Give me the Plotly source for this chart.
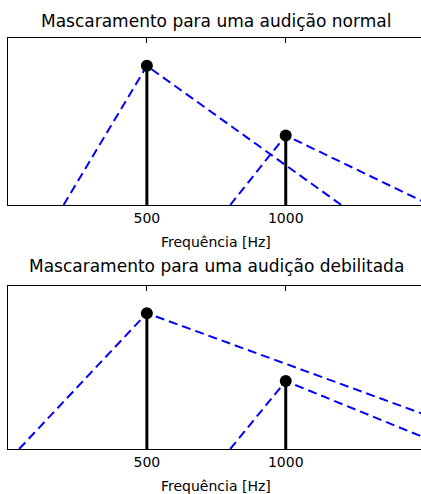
import plotly.graph_objects as go

# Pure tones (frequency in Hz, level in dB)
tone_freqs = [500, 1000]
tone_levels = [50, 25]

# Masking curves (frequency, level) for each tone
normal_500_f = [200, 500, 1200]
normal_500_db = [0, 50, 0]
normal_1000_f = [800, 1000, 1520]
normal_1000_db = [0, 25, 0]

impaired_500_f = [40, 500, 1840]
impaired_500_db = [0, 50, 0]
impaired_1000_f = [800, 1000, 1600]
impaired_1000_db = [0, 25, 0]

x_ticks = [500, 1000]
x_tick_text = ["500", "1000"]
titles = ["Mascaramento para uma audição normal",
          "Mascaramento para uma audição debilitada"]
x_label = "Frequência [Hz]"

FONT = "DejaVu Sans"
BLUE = "#0000ff"

fig = go.Figure()

panels = [
    ("x", "y", normal_500_f, normal_500_db, normal_1000_f, normal_1000_db),
    ("x2", "y2", impaired_500_f, impaired_500_db, impaired_1000_f, impaired_1000_db),
]

for xa, ya, f1, d1, f2, d2 in panels:
    for f, d in ((f1, d1), (f2, d2)):
        fig.add_trace(go.Scatter(
            x=f, y=d, mode="lines", xaxis=xa, yaxis=ya,
            line=dict(color=BLUE, width=2, dash="9px,5px"),
            showlegend=False, hoverinfo="skip"))
    # stems
    sx, sy = [], []
    for f, lv in zip(tone_freqs, tone_levels):
        sx += [f, f, None]
        sy += [0, lv, None]
    fig.add_trace(go.Scatter(
        x=sx, y=sy, mode="lines", xaxis=xa, yaxis=ya,
        line=dict(color="black", width=3),
        showlegend=False, hoverinfo="skip"))
    fig.add_trace(go.Scatter(
        x=tone_freqs, y=tone_levels, mode="markers", xaxis=xa, yaxis=ya,
        marker=dict(color="black", size=12),
        showlegend=False, hoverinfo="skip"))

xaxis_common = dict(
    range=[0, 1487], domain=[8 / 421, 1],
    tickvals=x_ticks, ticktext=x_tick_text,
    ticks="inside", ticklen=5, tickwidth=1, tickcolor="black",
    showline=True, linecolor="black", linewidth=1, mirror="ticks",
    showgrid=False, zeroline=False,
    tickfont=dict(family=FONT, size=14, color="black"),
)
yaxis_common = dict(
    range=[0, 60], showline=True, linecolor="black", linewidth=1,
    mirror=False, showticklabels=False, ticks="",
    showgrid=False, zeroline=False,
)

H = 494.0
fig.update_layout(
    width=421, height=494,
    margin=dict(l=0, r=0, t=0, b=0),
    paper_bgcolor="white", plot_bgcolor="white",
    xaxis=dict(**xaxis_common, anchor="y"),
    yaxis=dict(**yaxis_common, domain=[1 - 205 / H, 1 - 38 / H], anchor="x"),
    xaxis2=dict(**xaxis_common, anchor="y2"),
    yaxis2=dict(**yaxis_common, domain=[1 - 449 / H, 1 - 286 / H], anchor="x2"),
    font=dict(family=FONT, color="black"),
)

annots = [
    (titles[0], 21, 17, "x"),
    (x_label, 242, 14, "x"),
    (titles[1], 266, 17, "x2"),
    (x_label, 486, 14, "x2"),
]
for text, ypx, size, xref in annots:
    fig.add_annotation(
        text=text, xref=xref, x=750, yref="paper", y=1 - ypx / H,
        xanchor="center", yanchor="middle", showarrow=False,
        font=dict(family=FONT, size=size, color="black"))

fig.write_html("out.html")
